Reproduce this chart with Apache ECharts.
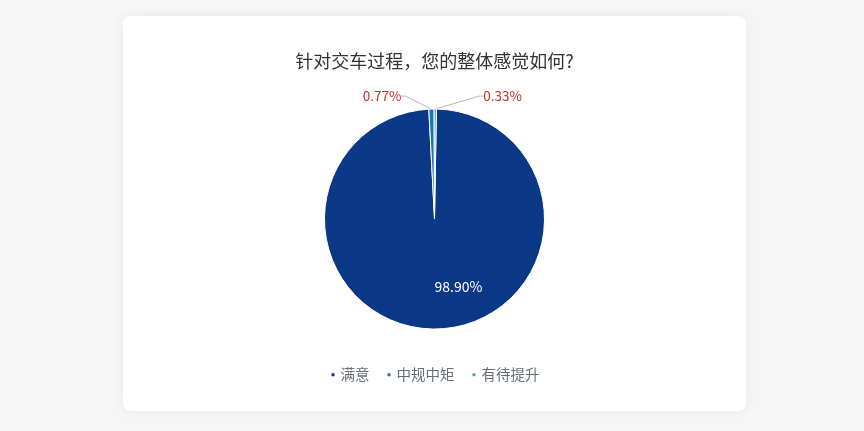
<!DOCTYPE html>
<html>
<head>
<meta charset="utf-8">
<script src="https://cdn.jsdelivr.net/npm/echarts@6/dist/echarts.min.js"></script>
<style>
html,body{margin:0;padding:0;background:#f6f6f6;width:864px;height:431px;overflow:hidden;}
#card{position:absolute;left:123px;top:16px;width:623px;height:395px;background:#fff;border-radius:8px;box-shadow:0 0 12px rgba(0,0,0,0.06);}
#chart{width:623px;height:395px;}
</style>
</head>
<body>
<div id="card"><div id="chart"></div></div>
<script>
const titleText = '针对交车过程，您的整体感觉如何?';
const categories = ['满意', '中规中矩', '有待提升'];
const values = [98.90, 0.77, 0.33];
const colors = ['#0a3786', '#1d72b8', '#3ba3e3'];

const chart = echarts.init(document.getElementById('chart'));
chart.setOption({
  title: {
    text: titleText,
    left: 'center',
    top: 31,
    textStyle: {fontSize: 18, fontWeight: 'normal', color: '#333', fontFamily: 'Noto Sans CJK SC'}
  },
  color: colors,
  legend: {
    bottom: 24,
    left: 'center',
    icon: 'rect',
    itemWidth: 5,
    itemHeight: 5,
    itemGap: 16,
    textStyle: {fontSize: 14.5, color: '#666e78', fontFamily: 'Noto Sans CJK SC'},
    data: categories
  },
  series: [{
    type: 'pie',
    center: ['50%', '51.4%'],
    radius: 110,
    startAngle: 89,
    clockwise: true,
    avoidLabelOverlap: false,
    itemStyle: {borderColor: '#fff', borderWidth: 1},
    label: {
      formatter: function (p) { return values[p.dataIndex].toFixed(2) + '%'; },
      fontSize: 13.5,
      color: '#c8302c',
      fontFamily: 'Noto Sans CJK SC'
    },
    labelLine: {length: 6, length2: 4, lineStyle: {color: '#b0b8c0', width: 1}},
    labelLayout: function (p) {
      if (p.dataIndex === 0) return {dx: 23, dy: 10};
      const r = p.labelRect;
      const left = p.dataIndex === 1;
      return {
        x: left ? r.x - 21 : r.x + 39,
        y: r.y + r.height / 2 - 7,
        align: 'left',
        verticalAlign: 'middle'
      };
    },
    data: categories.map(function (c, i) {
      const d = {name: c, value: values[i]};
      if (i === 0) {
        d.label = {position: 'inside', color: '#fff', fontSize: 14};
      }
      return d;
    })
  }]
});
</script>
</body>
</html>
